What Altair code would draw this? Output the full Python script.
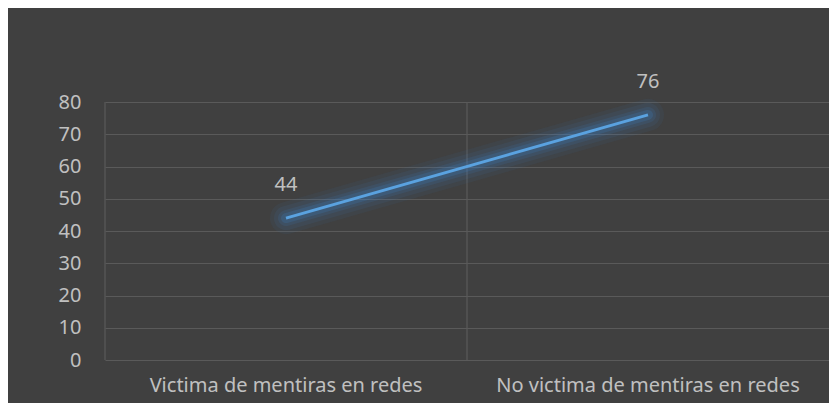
import altair as alt
import pandas as pd

categories = ["Victima de mentiras en redes", "No victima de mentiras en redes"]
values = [44, 76]
y_ticks = [0, 10, 20, 30, 40, 50, 60, 70, 80]

df = pd.DataFrame({"cat": categories, "val": values})

FONT = "Noto Sans"
BG = "#404040"
GRID = "#5a5a5a"
TXT = "#c0c0c0"
PLOT_H = 258

x_scale = alt.Scale(type="band", domain=categories, paddingInner=0, paddingOuter=0)
y_scale = alt.Scale(domain=[0, 80], nice=False)

x_axis = alt.Axis(
    title=None, labelAngle=0, ticks=False, domain=False, grid=False,
    labelFontSize=20, labelColor=TXT, labelFont=FONT, labelPadding=15,
    labelLimit=0,
)
x_enc = alt.X("cat:N", scale=x_scale, sort=categories, axis=x_axis)
y_enc = alt.Y(
    "val:Q",
    scale=y_scale,
    axis=alt.Axis(
        title=None, values=y_ticks, ticks=False, domain=False, grid=True,
        gridColor=GRID, gridWidth=1.2, labelFontSize=20, labelColor=TXT,
        labelFont=FONT, labelPadding=24,
    ),
)

base = alt.Chart(df)

vrules = base.mark_rule(color=GRID, strokeWidth=1.2).encode(
    x=alt.X("cat:N", scale=x_scale, sort=categories, bandPosition=0, axis=x_axis),
    y=alt.value(0),
    y2=alt.value(PLOT_H),
)

glow_layers = []
for w, op in [(32, 0.07), (24, 0.09), (16, 0.13), (10, 0.2)]:
    glow_layers.append(
        base.mark_line(color="#3d84c9", strokeWidth=w, opacity=op, strokeCap="round").encode(
            x=x_enc, y=y_enc
        )
    )

line = base.mark_line(color="#5aa2e0", strokeWidth=3, strokeCap="butt").encode(x=x_enc, y=y_enc)

labels = base.mark_text(dy=-33, fontSize=20, font=FONT, color=TXT).encode(
    x=x_enc, y=y_enc, text="val:Q"
)

chart = (
    alt.layer(vrules, *glow_layers, line, labels)
    .properties(
        width=724,
        height=PLOT_H,
        background=BG,
        padding={"left": 97, "top": 94, "right": 0, "bottom": 43},
        autosize=alt.AutoSizeParams(type="none"),
    )
    .configure_view(stroke=None)
)

chart.save("out.html", embed_options={"renderer": "svg", "actions": False})
